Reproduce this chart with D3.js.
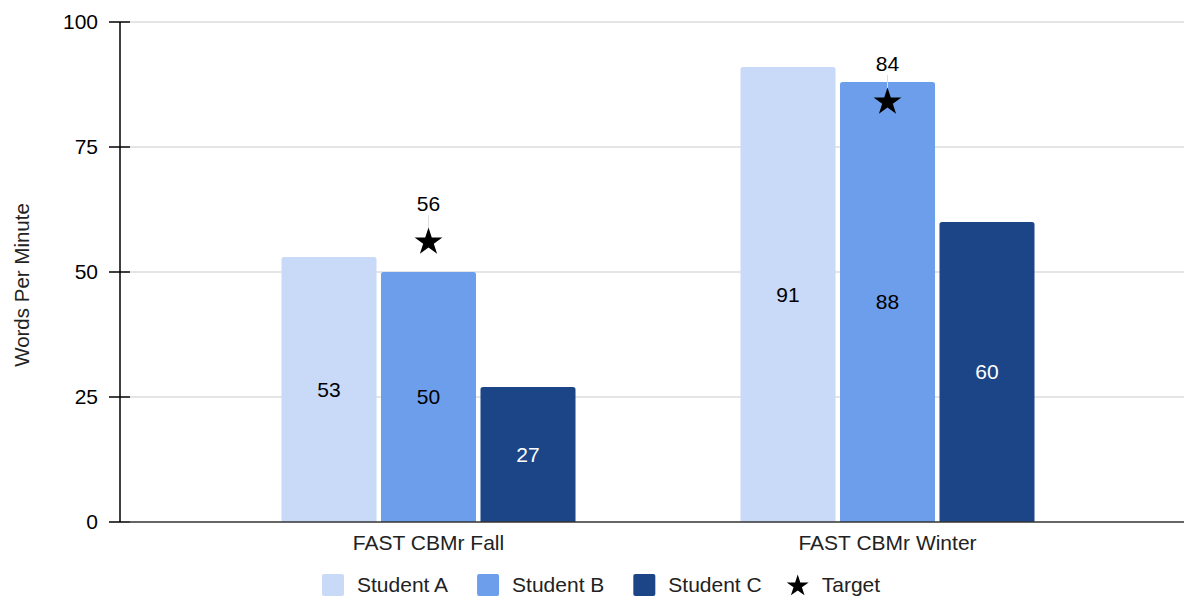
<!DOCTYPE html>
<html>
<head>
<meta charset="utf-8">
<script src="https://cdn.jsdelivr.net/npm/d3@7"></script>
<style>
  html, body { margin: 0; padding: 0; background: #fff; }
  svg { display: block; font-family: "Liberation Sans", Arial, sans-serif; }
</style>
</head>
<body>
<svg id="chart" width="1184" height="598"></svg>
<script>
// Assessment windows and students
const categories = ["FAST CBMr Fall", "FAST CBMr Winter"];
const seriesNames = ["Student A", "Student B", "Student C"];
const studentA = [53, 91];
const studentB = [50, 88];
const studentC = [27, 60];
const targets = [56, 84];
const yTicks = [0, 25, 50, 75, 100];
const colors = ["#c9daf8", "#6d9eeb", "#1c4587"];
const labelColors = ["#000", "#000", "#fff"];

const seriesValues = [studentA, studentB, studentC];

const svg = d3.select("#chart");
const W = 1184;
const axisX = 120, plotTop = 22, plotBottom = 522;
const font = 21;

const y = d3.scaleLinear().domain([0, 100]).range([plotBottom, plotTop]);
const x0 = d3.scaleBand().domain(categories).range([199, 1117]).padding(0);
const x1 = d3.scaleBand().domain(seriesNames).range([0, 294]).paddingInner(0.045);
const groupOffset = (x0.bandwidth() - 294) / 2;

// Gridlines
svg.append("g").selectAll("line")
  .data(yTicks.filter(t => t !== 0))
  .join("line")
  .attr("x1", axisX + 10).attr("x2", W)
  .attr("y1", d => y(d)).attr("y2", d => y(d))
  .attr("stroke", "#cccccc").attr("stroke-width", 1.2);

// Bars
const groups = svg.append("g").selectAll("g")
  .data(categories)
  .join("g")
  .attr("transform", d => `translate(${x0(d) + groupOffset},0)`);

const barData = (c, ci) => seriesNames.map((s, si) => ({ s, si, v: seriesValues[si][ci] }));

function topRoundedRect(x, yTop, w, h, r) {
  return `M${x},${yTop + h}V${yTop + r}Q${x},${yTop} ${x + r},${yTop}H${x + w - r}Q${x + w},${yTop} ${x + w},${yTop + r}V${yTop + h}Z`;
}

groups.each(function (c, ci) {
  const g = d3.select(this);
  const data = barData(c, ci);
  g.selectAll("path.bar")
    .data(data)
    .join("path")
    .attr("class", "bar")
    .attr("d", d => topRoundedRect(x1(d.s), y(d.v), x1.bandwidth(), plotBottom - y(d.v), 2.5))
    .attr("fill", d => colors[d.si]);
  g.selectAll("text.val")
    .data(data)
    .join("text")
    .attr("class", "val")
    .attr("x", d => x1(d.s) + x1.bandwidth() / 2)
    .attr("y", d => (y(d.v) + plotBottom) / 2)
    .attr("dy", "0.35em")
    .attr("text-anchor", "middle")
    .attr("font-size", font)
    .attr("fill", d => labelColors[d.si])
    .text(d => d.v);
});

// Y axis line and ticks
svg.append("line")
  .attr("x1", axisX).attr("x2", axisX)
  .attr("y1", plotTop).attr("y2", plotBottom)
  .attr("stroke", "#000").attr("stroke-width", 1.5);

svg.append("g").selectAll("line")
  .data(yTicks)
  .join("line")
  .attr("x1", axisX - 11).attr("x2", axisX + 10)
  .attr("y1", d => y(d)).attr("y2", d => y(d))
  .attr("stroke", "#000").attr("stroke-width", 1.5);

svg.append("g").selectAll("text")
  .data(yTicks)
  .join("text")
  .attr("x", 98)
  .attr("y", d => y(d))
  .attr("dy", "0.35em")
  .attr("text-anchor", "end")
  .attr("font-size", font)
  .attr("fill", "#000")
  .text(d => d);

// Baseline
svg.append("line")
  .attr("x1", axisX + 10).attr("x2", W)
  .attr("y1", plotBottom).attr("y2", plotBottom)
  .attr("stroke", "#333").attr("stroke-width", 1.6);

// Category labels
svg.append("g").selectAll("text")
  .data(categories)
  .join("text")
  .attr("x", d => x0(d) + x0.bandwidth() / 2)
  .attr("y", plotBottom + 21)
  .attr("dy", "0.35em")
  .attr("text-anchor", "middle")
  .attr("font-size", font)
  .attr("fill", "#222")
  .text(d => d);

// Axis title
svg.append("text")
  .attr("transform", `translate(22,285) rotate(-90)`)
  .attr("dy", "0.35em")
  .attr("text-anchor", "middle")
  .attr("font-size", 20.5)
  .attr("fill", "#222")
  .text("Words Per Minute");

// Target markers with leader lines and labels
const star = d3.symbol().type(d3.symbolStar).size(240);
const tg = svg.append("g").selectAll("g")
  .data(categories.map((c, i) => ({ c, v: targets[i] })))
  .join("g")
  .attr("transform", d => `translate(${x0(d.c) + x0.bandwidth() / 2},${y(d.v)})`);
tg.append("line")
  .attr("x1", 0).attr("x2", 0)
  .attr("y1", -27).attr("y2", -14)
  .attr("stroke", "#ddd").attr("stroke-width", 1);
tg.append("path").attr("d", star).attr("fill", "#000");
tg.append("text")
  .attr("y", -38)
  .attr("dy", "0.35em")
  .attr("text-anchor", "middle")
  .attr("font-size", font)
  .attr("fill", "#000")
  .text(d => d.v);

// Legend
const legendItems = seriesNames.map((s, i) => ({ label: s, color: colors[i], kind: "box" }))
  .concat([{ label: "Target", kind: "star" }]);
const legend = svg.append("g").attr("transform", "translate(0,585)");
let lx = 322;
legendItems.forEach(item => {
  const g = legend.append("g").attr("transform", `translate(${lx},0)`);
  if (item.kind === "box") {
    g.append("rect")
      .attr("x", 0).attr("y", -11).attr("width", 22).attr("height", 22)
      .attr("rx", 2).attr("fill", item.color);
  } else {
    g.append("path")
      .attr("transform", "translate(11,1)")
      .attr("d", d3.symbol().type(d3.symbolStar).size(150))
      .attr("fill", "#000");
  }
  const t = g.append("text")
    .attr("x", 35)
    .attr("dy", "0.35em")
    .attr("font-size", font)
    .attr("fill", "#222")
    .text(item.label);
  lx += 35 + t.node().getComputedTextLength() + (item.label === "Student C" ? 25 : 29);
});
</script>
</body>
</html>
